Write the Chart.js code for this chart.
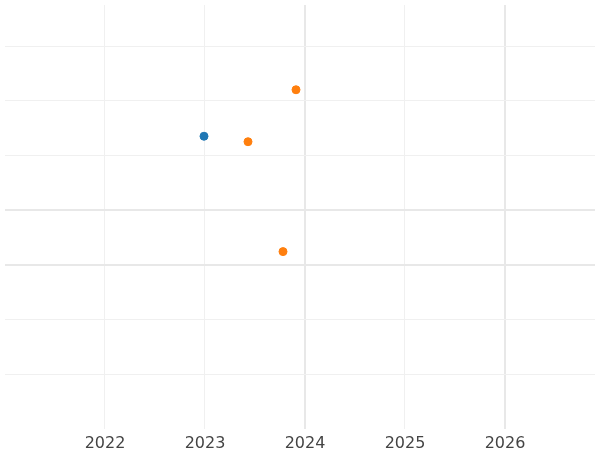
<!DOCTYPE html>
<html>
<head>
<meta charset="utf-8">
<script src="https://cdn.jsdelivr.net/npm/chart.js@4"></script>
<style>
  html, body { margin: 0; padding: 0; background: #fff; }
  #wrap { width: 600px; height: 450px; }
</style>
</head>
<body>
<div id="wrap"><canvas id="c"></canvas></div>
<script>
const xTicks = [2022, 2023, 2024, 2025, 2026];
const blueX = [2022.99];
const blueY = [5.35];
const orangeX = [2023.43, 2023.91, 2023.78];
const orangeY = [5.25, 6.2, 3.24];

const toPoints = (xs, ys) => xs.map((x, i) => ({ x, y: ys[i] }));
const strong = new Set([2024, 2026, 3, 4]);

new Chart(document.getElementById("c"), {
  type: "scatter",
  data: {
    datasets: [
      { data: toPoints(blueX, blueY), backgroundColor: "#1f77b4", borderColor: "#1f77b4", pointRadius: 4 },
      { data: toPoints(orangeX, orangeY), backgroundColor: "#ff7f0e", borderColor: "#ff7f0e", pointRadius: 4 },
    ],
  },
  options: {
    responsive: true,
    maintainAspectRatio: false,
    animation: false,
    layout: { padding: { left: -5, right: -5, top: -5, bottom: -8 } },
    plugins: { legend: { display: false }, tooltip: { enabled: false } },
    scales: {
      x: {
        type: "linear",
        min: 2021.0,
        max: 2026.9,
        afterBuildTicks: (axis) => { axis.ticks = xTicks.map((v) => ({ value: v })); },
        border: { display: false },
        grid: {
          drawTicks: false,
          color: (ctx) => (strong.has(ctx.tick && ctx.tick.value) ? "#e8e8e8" : "#f0f0f0"),
          lineWidth: (ctx) => (strong.has(ctx.tick && ctx.tick.value) ? 2 : 1),
        },
        ticks: {
          padding: 5,
          color: "#444",
          font: { family: "DejaVu Sans", size: 16 },
          callback: (v) => String(v),
        },
      },
      y: {
        min: 0,
        max: 7.75,
        afterBuildTicks: (axis) => { axis.ticks = [1, 2, 3, 4, 5, 6, 7].map((v) => ({ value: v })); },
        border: { display: false },
        grid: {
          drawTicks: false,
          color: (ctx) => (strong.has(ctx.tick && ctx.tick.value) ? "#e8e8e8" : "#f0f0f0"),
          lineWidth: (ctx) => (strong.has(ctx.tick && ctx.tick.value) ? 2 : 1),
        },
        ticks: { display: false },
      },
    },
  },
});
</script>
</body>
</html>
